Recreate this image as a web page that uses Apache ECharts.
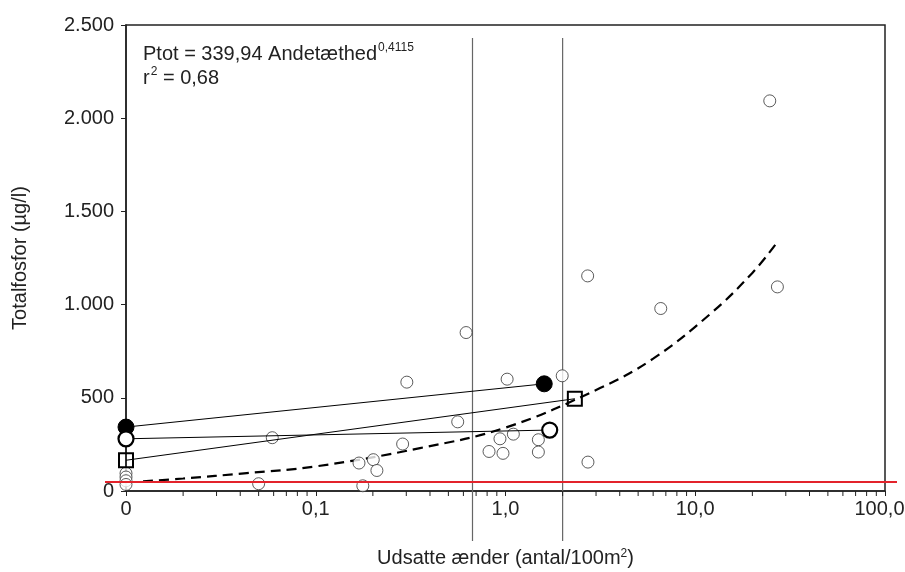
<!DOCTYPE html>
<html>
<head>
<meta charset="utf-8">
<script src="https://cdn.jsdelivr.net/npm/echarts@6/dist/echarts.min.js"></script>
<style>html,body{margin:0;padding:0;background:#fff;overflow:hidden}#c{width:905px;height:572px}</style>
</head>
<body>
<div id="c"></div>
<script>
// Observations (x = 0 is plotted at the axis start 0.01, labelled "0")
const obsX = [24.7, 2.71, 6.58, 27.1, 0.62, 0.302, 1.02, 1.99, 0.56, 0.059, 0.287, 0.935, 1.10, 1.49, 0.819, 0.97, 1.49, 2.72, 0.169, 0.201, 0.21, 0.05, 0.177, 0.01, 0.01, 0.01, 0.01];
const obsY = [2093, 1154, 979, 1095, 850, 584, 600, 618, 371, 286, 252, 280, 305, 275, 212, 202, 209, 155, 150, 168, 110, 39, 28, 95, 75, 55, 35];
// Paired lakes (before / after)
const filledX = [0.01, 1.60];   const filledY = [343, 575];
const ringX = [0.01, 1.71];     const ringY = [280, 327];
const squareX = [0.01, 2.32];   const squareY = [165, 495];
// Fitted curve
const fitX = [0.0123, 0.02, 0.0433, 0.1, 0.354, 1.0, 3.15, 6.0, 12, 20, 26.9];
const fitY = [52, 67, 96, 132, 230, 340, 552, 710, 950, 1170, 1332];
// Reference lines
const vLinesX = [0.67, 2.0];
const redLineY = [48];
// Axes
const xTickValues = [0.01, 0.1, 1, 10, 100];
const xTickLabels = ['0', '0,1', '1,0', '10,0', '100,0'];
const xMinorTicks = [0.02,0.03,0.04,0.05,0.06,0.07,0.08,0.09,0.2,0.3,0.4,0.5,0.6,0.7,0.8,0.9,2,3,4,5,6,7,8,9,20,30,40,50,60,70,80,90];
const yTickLabels = {0:'0', 500:'500', 1000:'1.000', 1500:'1.500', 2000:'2.000', 2500:'2.500'};

const FONT = "'Liberation Sans', Arial, sans-serif";
const INK = '#222';

function zip(a, b) { return a.map((v, i) => [v, b[i]]); }

const chart = echarts.init(document.getElementById('c'), null, {renderer: 'canvas', width: 905, height: 572});

const option = {
  animation: false,
  backgroundColor: '#fff',
  textStyle: {fontFamily: FONT},
  grid: {left: 126, right: 20, top: 25, bottom: 81, outerBoundsMode: 'none', containLabel: false,
    show: true, borderColor: INK, borderWidth: 1.5, backgroundColor: 'transparent'},
  xAxis: {
    type: 'log', logBase: 10, min: 0.01, max: 100,
    name: 'Udsatte ænder (antal/100m{s|2})',
    nameLocation: 'middle', nameGap: 57,
    nameTextStyle: {fontSize: 20, color: INK, fontFamily: FONT,
      rich: {s: {fontSize: 12, verticalAlign: 'top', padding: [0, 0, 8, 0], color: INK, fontFamily: FONT}}},
    axisLine: {lineStyle: {color: INK, width: 1.5}},
    axisTick: {show: true, inside: false, length: 5, lineStyle: {color: INK, width: 1}},
    splitLine: {show: false},
    axisLabel: {
      fontSize: 20, color: INK, margin: 8, fontFamily: FONT, hideOverlap: false,
      rich: {last: {fontSize: 20, color: INK, fontFamily: FONT, padding: [0, 11, 0, 0]}},
      formatter: function (v) {
        let best = 0, d = Infinity;
        xTickValues.forEach((t, i) => { const e = Math.abs(Math.log10(v) - Math.log10(t)); if (e < d) { d = e; best = i; } });
        return best === xTickValues.length - 1 ? '{last|' + xTickLabels[best] + '}' : xTickLabels[best];
      }
    }
  },
  yAxis: {
    type: 'value', min: 0, max: 2500, interval: 500,
    name: 'Totalfosfor (µg/l)',
    nameLocation: 'middle', nameGap: 96,
    nameTextStyle: {fontSize: 20, color: INK, fontFamily: FONT},
    axisLine: {show: true, lineStyle: {color: INK, width: 1.5}},
    axisTick: {show: true, inside: false, length: 5, lineStyle: {color: INK, width: 1}},
    splitLine: {show: false},
    axisLabel: {fontSize: 20, color: INK, margin: 12, fontFamily: FONT,
      formatter: v => yTickLabels[Math.round(v)] !== undefined ? yTickLabels[Math.round(v)] : String(v)}
  },
  graphic: [{
    type: 'text', left: 143, top: 42, z: 100,
    style: {
      text: '{a|Ptot = 339,94 Andetæthed}{s|0,4115}\n{a|r}{s|2}{a| = 0,68}',
      fill: INK, font: '20px ' + FONT,
      rich: {
        a: {fontSize: 20, lineHeight: 24, fontFamily: FONT, fill: INK, color: INK},
        s: {fontSize: 12, lineHeight: 24, verticalAlign: 'top', padding: [0, 0, 0, 1], fontFamily: FONT, color: INK}
      }
    }
  }],
  series: [
    {
      type: 'custom', name: 'vlines', silent: true, clip: false, z: 1,
      data: vLinesX.map(v => [v, 0]),
      renderItem: function (params, api) {
        const x = api.value(0);
        const top = api.coord([x, 2430]);
        const bot = api.coord([x, 0]);
        return {type: 'line', shape: {x1: top[0], y1: top[1], x2: bot[0], y2: bot[1] + 50},
          style: {stroke: '#666', lineWidth: 1.2}};
      }
    },
    {
      type: 'custom', name: 'minorTicks', silent: true, clip: false, z: 1,
      data: xMinorTicks.map(v => [v, 0]),
      renderItem: function (params, api) {
        const p = api.coord([api.value(0), 0]);
        return {type: 'line', shape: {x1: p[0], y1: p[1], x2: p[0], y2: p[1] + 5},
          style: {stroke: INK, lineWidth: 1}};
      }
    },
    {
      type: 'line', name: 'fit', data: zip(fitX, fitY), smooth: 0.4, showSymbol: false, symbol: 'none',
      lineStyle: {color: '#000', width: 2.2, type: [10, 6]}, z: 2, silent: true
    },
    {
      type: 'scatter', name: 'obs', data: zip(obsX, obsY), symbol: 'circle', symbolSize: 12, clip: false,
      itemStyle: {color: '#fff', borderColor: '#333', borderWidth: 1}, z: 3
    },
    {
      type: 'line', name: 'filled', data: zip(filledX, filledY), symbol: 'circle', symbolSize: 16, showSymbol: true, clip: false,
      lineStyle: {color: '#000', width: 1}, itemStyle: {color: '#000', borderColor: '#000', borderWidth: 1}, z: 4
    },
    {
      type: 'line', name: 'ring', data: zip(ringX, ringY), symbol: 'circle', symbolSize: 15, showSymbol: true, clip: false,
      lineStyle: {color: '#000', width: 1}, itemStyle: {color: '#fff', borderColor: '#000', borderWidth: 2.2}, z: 4
    },
    {
      type: 'line', name: 'square', data: zip(squareX, squareY), symbol: 'rect', symbolSize: 14, showSymbol: true, clip: false,
      lineStyle: {color: '#000', width: 1}, itemStyle: {color: 'rgba(255,255,255,0)', borderColor: '#000', borderWidth: 2}, z: 4
    },
    {
      type: 'custom', name: 'redline', silent: true, clip: false, z: 5,
      data: redLineY.map(v => [0.01, v]),
      renderItem: function (params, api) {
        const y = api.value(1);
        const a = api.coord([0.01, y]);
        const b = api.coord([100, y]);
        return {type: 'line', shape: {x1: a[0] - 21, y1: a[1], x2: b[0] + 12, y2: b[1]},
          style: {stroke: '#e3232b', lineWidth: 2}};
      }
    }
  ]
};
chart.setOption(option);
</script>
</body>
</html>
